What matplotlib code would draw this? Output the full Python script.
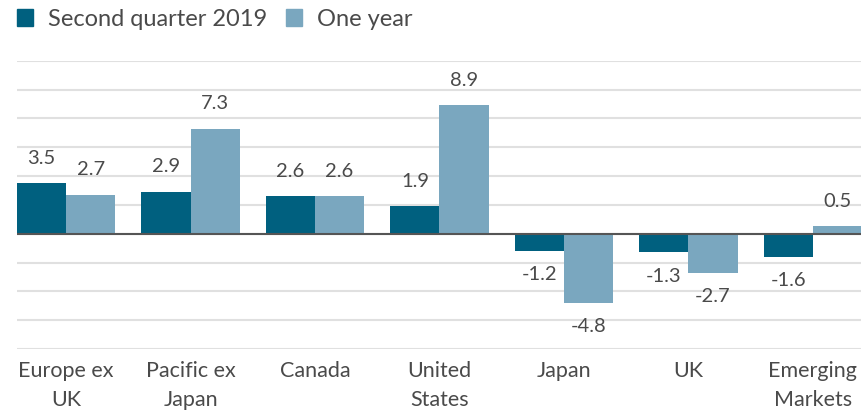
import matplotlib
matplotlib.use("Agg")
import matplotlib.pyplot as plt
from matplotlib import font_manager
from matplotlib.patches import Patch
import numpy as np

categories = ["Europe ex\nUK", "Pacific ex\nJapan", "Canada", "United\nStates",
              "Japan", "UK", "Emerging\nMarkets"]
second_quarter = [3.5, 2.9, 2.6, 1.9, -1.2, -1.3, -1.6]
one_year = [2.7, 7.3, 2.6, 8.9, -4.8, -2.7, 0.5]
series_names = ["Second quarter 2019", "One year"]

dark = "#00607f"
light = "#7aa7bf"
text_col = "#4a4a4a"

names = set(f.name for f in font_manager.fontManager.ttflist)
main_font = "Lato" if "Lato" in names else "DejaVu Sans"
plt.rcParams["font.family"] = main_font

fig = plt.figure(figsize=(8.62, 4.11), dpi=100)
ax = fig.add_axes([0.0197, 0.151, 0.9803, 0.701])

x = np.arange(len(categories))
w = 0.395
b1 = ax.bar(x - w / 2, second_quarter, w, color=dark, zorder=2)
b2 = ax.bar(x + w / 2, one_year, w, color=light, zorder=2)

for bars, vals in ((b1, second_quarter), (b2, one_year)):
    for bar, v in zip(bars, vals):
        off = 12 if v >= 0 else -11
        ax.annotate(f"{v:.1f}", (bar.get_x() + bar.get_width() / 2, v),
                    xytext=(0, off), textcoords="offset points",
                    ha="center", va="bottom" if v >= 0 else "top",
                    fontsize=14.5, color=text_col)

ax.set_ylim(-8, 12)
ax.set_xlim(-w, len(categories) - 1 + w)
ax.set_yticks(np.arange(-8, 13, 2))
ax.yaxis.grid(True, color="#e0e0e0", linewidth=1.5, zorder=0)
ax.axhline(0, color="#555555", linewidth=1.5, zorder=3)
ax.tick_params(axis="y", left=False, labelleft=False)
ax.tick_params(axis="x", bottom=False, pad=5)
ax.set_xticks(x)
ax.set_xticklabels(categories, fontsize=15.5, color=text_col, linespacing=1.55)
for s in ax.spines.values():
    s.set_visible(False)

handles = [Patch(color=dark), Patch(color=light)]
fig.legend(handles, series_names, loc="upper left", bbox_to_anchor=(0.013, 0.993),
           ncol=2, frameon=False, fontsize=17, labelcolor=text_col,
           handlelength=0.68, handleheight=0.68, handletextpad=0.62,
           columnspacing=0.8, borderpad=0.25, borderaxespad=0)

fig.savefig("out.png", dpi=100)
